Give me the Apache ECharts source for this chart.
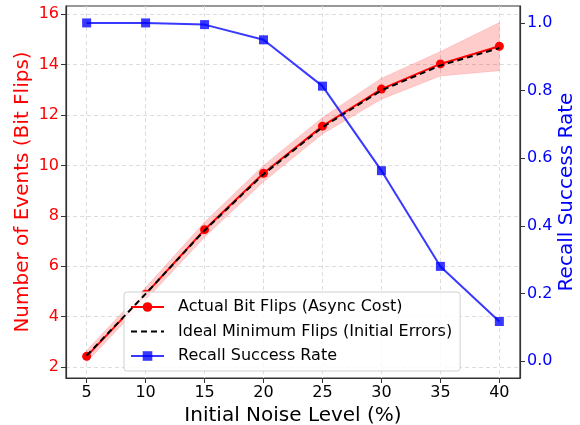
<!DOCTYPE html>
<html>
<head>
<meta charset="utf-8">
<script src="https://cdn.jsdelivr.net/npm/echarts@6/dist/echarts.min.js"></script>
<style>
html,body{margin:0;padding:0;background:#fff;}
#main{width:580px;height:425px;}
</style>
</head>
<body>
<div id="main"></div>
<script>
var noiseLevels = [5, 10, 15, 20, 25, 30, 35, 40];
var actualFlips = [2.42, 4.89, 7.45, 9.69, 11.56, 13.03, 14.03, 14.73];
var idealFlips = [2.45, 4.9, 7.42, 9.65, 11.52, 12.98, 13.97, 14.66];
var flipsLow = [2.2, 4.65, 7.15, 9.35, 11.25, 12.63, 13.55, 13.76];
var flipsHigh = [2.65, 5.15, 7.75, 10.0, 11.9, 13.46, 14.52, 15.67];
var recallRate = [1.0, 1.0, 0.995, 0.95, 0.813, 0.563, 0.28, 0.117];
var xTicks = [5, 10, 15, 20, 25, 30, 35, 40];
var leftTicks = [2, 4, 6, 8, 10, 12, 14, 16];
var rightTicks = [0, 0.2, 0.4, 0.6, 0.8, 1.0];

var font = 'DejaVu Sans';
var dom = document.getElementById("main");
var myChart = echarts.init(dom);

function pairs(ys) {
    return noiseLevels.map(function (x, i) { return [x, ys[i]]; });
}

// shaded band between low and high, drawn as one polygon
function renderBand(params, api) {
    if (params.dataIndex !== 0) return;
    var pts = [];
    for (var i = 0; i < noiseLevels.length; i++) {
        pts.push(api.coord([noiseLevels[i], flipsHigh[i]]));
    }
    for (var j = noiseLevels.length - 1; j >= 0; j--) {
        pts.push(api.coord([noiseLevels[j], flipsLow[j]]));
    }
    return {
        type: 'polygon',
        shape: { points: pts },
        style: { fill: 'rgba(255,0,0,0.2)', stroke: 'rgba(255,0,0,0.12)', lineWidth: 1 }
    };
}

var option = {
    animation: false,
    textStyle: { fontFamily: font },
    grid: {
        left: 66, right: 60, top: 6, bottom: 47,
        containLabel: false, outerBoundsMode: 'none',
        show: true, borderColor: '#333', borderWidth: 1.2, backgroundColor: 'transparent'
    },
    legend: {
        data: [
            'Actual Bit Flips (Async Cost)',
            { name: 'Ideal Minimum Flips (Initial Errors)', itemStyle: { opacity: 0 } },
            'Recall Success Rate'
        ],
        orient: 'vertical',
        left: 124, top: 292,
        itemWidth: 33, itemHeight: 12, itemGap: 8.5,
        padding: [7, 8, 7, 6],
        backgroundColor: 'rgba(255,255,255,0.85)',
        borderColor: '#d0d0d0', borderWidth: 1, borderRadius: 3,
        textStyle: { fontFamily: font, fontSize: 16, color: '#000', padding: [0, 0, 0, 9] }
    },
    xAxis: {
        type: 'value', min: 3.25, max: 41.75,
        name: 'Initial Noise Level (%)', nameLocation: 'middle', nameGap: 26,
        nameTextStyle: { fontSize: 20, color: '#000', fontFamily: font },
        axisLine: { show: true, onZero: false, lineStyle: { color: '#333', width: 1.2 } },
        axisTick: { show: true, length: 5, customValues: xTicks, lineStyle: { color: '#333' } },
        axisLabel: { customValues: xTicks, fontSize: 16, color: '#000', margin: 7 },
        splitLine: { show: true, lineStyle: { color: '#ddd', type: [4, 3] } }
    },
    yAxis: [
        {
            type: 'value', min: 1.56, max: 16.33, position: 'left',
            name: 'Number of Events (Bit Flips)', nameLocation: 'middle', nameGap: 33,
            nameMoveOverlap: false,
            nameTextStyle: { fontSize: 20, color: '#ff0000', fontFamily: font },
            axisLine: { show: true, onZero: false, lineStyle: { color: '#333', width: 1.2 } },
            axisTick: { show: true, length: 5, customValues: leftTicks, lineStyle: { color: '#333' } },
            axisLabel: { customValues: leftTicks, fontSize: 16, color: '#ff0000', margin: 7 },
            splitLine: { show: true, lineStyle: { color: '#ddd', type: [4, 3] } }
        },
        {
            type: 'value', min: -0.05, max: 1.05, position: 'right',
            name: 'Recall Success Rate', nameLocation: 'middle', nameGap: 37,
            nameMoveOverlap: false,
            nameTextStyle: { fontSize: 20, color: '#0000ff', fontFamily: font },
            axisLine: { show: true, onZero: false, lineStyle: { color: '#333', width: 1.2 } },
            axisTick: { show: true, length: 5, customValues: rightTicks, lineStyle: { color: '#333' } },
            axisLabel: {
                customValues: rightTicks, fontSize: 16, color: '#0000ff', margin: 7,
                formatter: function (v) { return v.toFixed(1); }
            },
            splitLine: { show: false }
        }
    ],
    series: [
        {
            name: 'band', type: 'custom', yAxisIndex: 0,
            data: noiseLevels.map(function (x, i) { return [x, flipsLow[i], flipsHigh[i]]; }),
            encode: { x: 0, y: [1, 2] },
            renderItem: renderBand, silent: true, z: 1
        },
        {
            name: 'Actual Bit Flips (Async Cost)', type: 'line', yAxisIndex: 0,
            data: pairs(actualFlips), color: '#ff0000',
            symbol: 'circle', symbolSize: 9,
            lineStyle: { width: 2, color: '#ff0000' }, itemStyle: { color: '#ff0000' }, z: 3
        },
        {
            name: 'Ideal Minimum Flips (Initial Errors)', type: 'line', yAxisIndex: 0,
            data: pairs(idealFlips), color: '#000',
            symbol: 'circle', symbolSize: 0, showSymbol: false,
            lineStyle: { width: 2, color: '#000', type: [6, 4] }, z: 4
        },
        {
            name: 'Recall Success Rate', type: 'line', yAxisIndex: 1,
            data: pairs(recallRate), color: 'rgba(0,0,255,0.78)',
            symbol: 'rect', symbolSize: 9,
            lineStyle: { width: 2, color: 'rgba(0,0,255,0.78)' },
            itemStyle: { color: 'rgba(0,0,255,0.78)' }, z: 5
        }
    ]
};
myChart.setOption(option);
</script>
</body>
</html>
